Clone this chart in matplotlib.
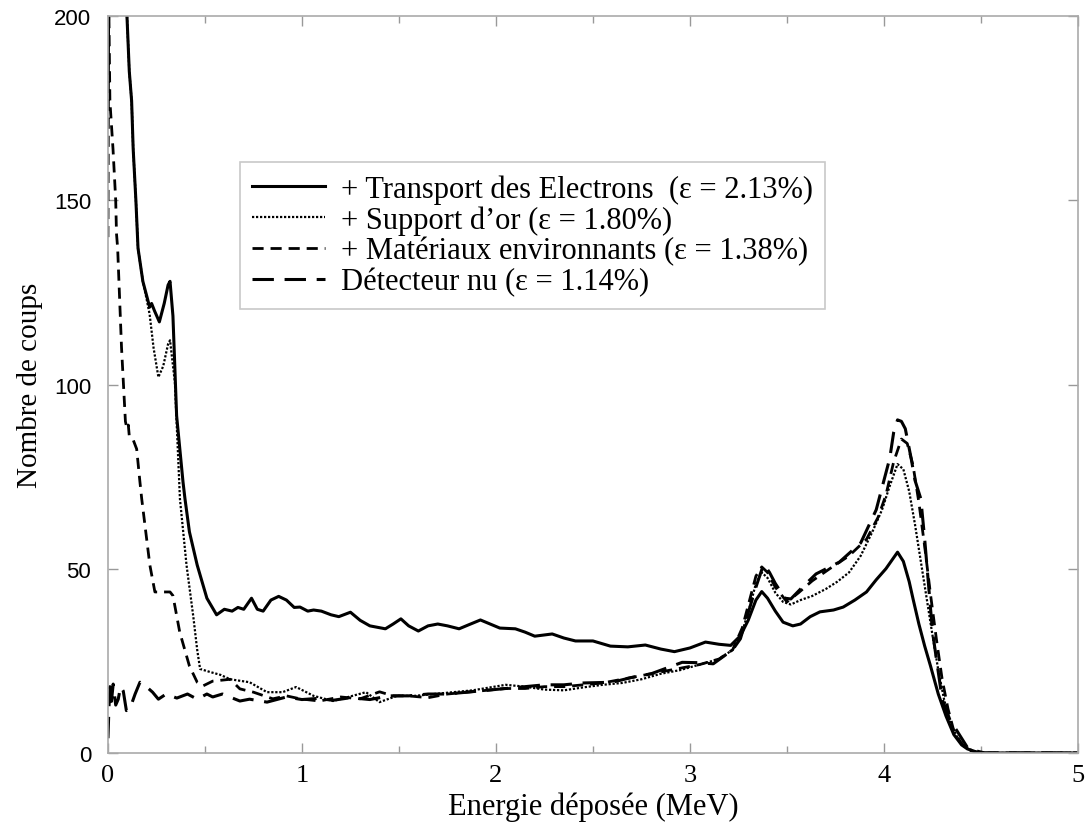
"""
Spectre simule : contributions successives (energie deposee)
"""
import numpy as np
import matplotlib.pyplot as plt

# Transport des electrons (trait plein)
x_elec = [0.098, 0.11, 0.122, 0.13, 0.144, 0.155, 0.18, 0.20, 0.215, 0.225, 0.24, 0.265, 0.29,
          0.31, 0.32, 0.335, 0.354, 0.387, 0.397, 0.42, 0.46, 0.51, 0.56, 0.60, 0.64, 0.67, 0.70,
          0.74, 0.77, 0.80, 0.84, 0.88, 0.92, 0.96, 0.99, 1.03, 1.06, 1.10, 1.15, 1.19, 1.25,
          1.30, 1.35, 1.43, 1.47, 1.51, 1.55, 1.60, 1.65, 1.70, 1.75, 1.81, 1.86, 1.92, 1.97,
          2.02, 2.10, 2.15, 2.20, 2.29, 2.35, 2.41, 2.50, 2.59, 2.68, 2.77, 2.85, 2.92, 3.00,
          3.08, 3.15, 3.21, 3.26, 3.30, 3.34, 3.37, 3.40, 3.44, 3.48, 3.53, 3.57, 3.62, 3.67,
          3.74, 3.79, 3.85, 3.91, 3.96, 4.01, 4.07, 4.10, 4.13, 4.15, 4.18, 4.21, 4.24, 4.28,
          4.32, 4.36, 4.40, 4.43, 4.48, 4.52, 5.0]
y_elec = [200, 185, 177, 164, 150, 137, 128, 124, 121, 122, 120, 117, 122,
          127, 128, 118.6, 91.5, 73.5, 69, 60, 51, 42, 37.5, 39, 38.5, 39.5, 39,
          42, 39, 38.5, 41.5, 42.5, 41.5, 39.5, 39.6, 38.5, 38.8, 38.5, 37.5, 37, 38.2,
          36, 34.5, 33.7, 35, 36.4, 34.5, 33.1, 34.5, 35, 34.5, 33.7, 34.8, 36.1, 35,
          33.9, 33.7, 32.8, 31.7, 32.3, 31.2, 30.4, 30.4, 29.0, 28.8, 29.3, 28.2, 27.5, 28.5,
          30.1, 29.5, 29.2, 31.8, 36, 41.5, 43.8, 42, 38.5, 35.5, 34.5, 35, 37, 38.3,
          38.8, 39.6, 41.5, 43.7, 47, 50, 54.5, 52, 46.5, 41.8, 35, 29, 23.6, 16,
          10, 5, 2.2, 1.1, 0.2, 0, 0]

# Support d'or (pointilles)
x_or = [0.098, 0.11, 0.122, 0.13, 0.144, 0.155, 0.18, 0.20, 0.215, 0.235, 0.26, 0.285, 0.31,
        0.32, 0.345, 0.36, 0.371, 0.405, 0.44, 0.46, 0.475, 0.525, 0.58, 0.63, 0.73, 0.82,
        0.90, 0.97, 1.06, 1.16, 1.26, 1.33, 1.40, 1.49, 1.58, 1.68, 1.78, 1.88, 1.97, 2.05,
        2.15, 2.25, 2.35, 2.45, 2.55, 2.65, 2.75, 2.85, 2.95, 3.05, 3.15, 3.22, 3.27, 3.31,
        3.34, 3.37, 3.40, 3.44, 3.48, 3.52, 3.57, 3.63, 3.70, 3.76, 3.82, 3.88, 3.94, 3.99,
        4.03, 4.07, 4.10, 4.13, 4.16, 4.19, 4.22, 4.25, 4.28, 4.31, 4.34, 4.38, 4.42, 4.47,
        4.52, 5.0]
y_or = [200, 185, 177, 164, 150, 137, 128, 123, 119, 110, 102, 105, 111,
        112, 100.6, 82.5, 69, 51, 37, 28, 22.8, 22, 21.2, 20, 19.2, 16.5,
        16.5, 17.9, 15.5, 14.1, 15.5, 16.5, 13.8, 15.5, 15.5, 16, 16.5, 17, 17.8, 18.5,
        18, 17.2, 17, 17.8, 18.5, 19, 20, 21.5, 22.5, 24, 25.5, 28, 33, 40,
        46, 49, 47.5, 43.5, 41, 40.3, 41.5, 42.6, 44.5, 46.5, 49, 53.5, 60, 66,
        72.5, 78.4, 77, 71, 62, 52, 42, 32, 22.5, 14.5, 8.5, 4, 1.5, 0.4,
        0, 0]

# Materiaux environnants (tirets courts)
x_mat = [0.0, 0.004, 0.01, 0.026, 0.04, 0.044, 0.05, 0.07, 0.09, 0.098, 0.105, 0.11, 0.13,
         0.148, 0.165, 0.174, 0.216, 0.242, 0.32, 0.335, 0.37, 0.42, 0.46, 0.49, 0.54, 0.63,
         0.68, 0.75, 0.85, 0.92, 0.99, 1.09, 1.20, 1.30, 1.40, 1.47, 1.55, 1.65, 1.75, 1.85,
         1.95, 2.05, 2.15, 2.25, 2.35, 2.45, 2.55, 2.65, 2.75, 2.85, 2.95, 3.05, 3.15, 3.22,
         3.27, 3.31, 3.34, 3.37, 3.40, 3.44, 3.50, 3.56, 3.63, 3.72, 3.82, 3.91, 3.97, 4.01,
         4.05, 4.09, 4.12, 4.15, 4.18, 4.21, 4.24, 4.27, 4.30, 4.33, 4.36, 4.40, 4.44, 4.50, 5.0]
y_mat = [140, 205, 177, 164, 150, 141, 137, 110, 90, 88, 89, 86, 85,
         82.5, 73.5, 69, 51, 43.7, 43.7, 42.7, 32.8, 23.6, 19.2, 18.2, 19.5, 20,
         17.4, 16.5, 14.7, 15.5, 14.7, 14.1, 15.2, 14.7, 16.6, 15.5, 15.5, 15, 16, 16.5,
         17, 17.5, 17.5, 18, 18, 18.5, 19, 20, 21, 22, 23, 24, 25.5, 28,
         34, 42, 48, 50.5, 49, 45, 41, 43.5, 46.7, 50, 53.5, 58, 64, 70,
         79, 85.2, 84, 78, 68, 56, 43, 31, 20, 12, 6, 2.5, 0.7, 0, 0]

# Detecteur nu (tirets longs)
x_nu = [0.0, 0.005, 0.01, 0.018, 0.027, 0.04, 0.053, 0.065, 0.079, 0.095, 0.113, 0.14, 0.165,
        0.2, 0.23, 0.26, 0.30, 0.355, 0.41, 0.46, 0.51, 0.54, 0.59, 0.68, 0.73, 0.82, 0.92,
        1.0, 1.08, 1.16, 1.25, 1.35, 1.45, 1.55, 1.65, 1.75, 1.85, 1.95, 2.05, 2.15, 2.25,
        2.35, 2.45, 2.6, 2.7, 2.8, 2.96, 3.05, 3.12, 3.22, 3.26, 3.30, 3.34, 3.38, 3.41,
        3.44, 3.49, 3.52, 3.57, 3.65, 3.77, 3.88, 3.96, 4.03, 4.05, 4.07, 4.09, 4.11, 4.14,
        4.16, 4.19, 4.21, 4.25, 4.30, 4.34, 4.38, 4.43, 4.48, 4.52, 5.0]
y_nu = [4, 12, 18, 14, 18.7, 13, 14.6, 18, 16.8, 11.5, 12, 16, 19.2,
        17.9, 16.5, 14.6, 16, 14.9, 16, 14.6, 16, 15.2, 16, 14.1, 14.6, 13.8, 15.2,
        14.5, 14.8, 14.3, 15, 14.5, 15.5, 15.5, 16, 16, 16.5, 17, 17.5, 18, 18.5,
        18.5, 19, 19.2, 20.5, 21.5, 24.6, 24.5, 24.2, 28, 31, 38, 45, 51.3, 49,
        46, 42, 41.8, 44.5, 48.6, 51.8, 57, 66, 80, 87, 90.4, 90, 88, 80,
        74, 69, 58, 33, 14.6, 9, 5.7, 1.5, 0.5, 0, 0]

labels = [u"+ Transport des Electrons  (\u03b5 = 2.13%)",
          u"+ Support d\u2019or (\u03b5 = 1.80%)",
          u"+ Mat\u00e9riaux environnants (\u03b5 = 1.38%)",
          u"D\u00e9tecteur nu (\u03b5 = 1.14%)"]

plt.rcParams['font.family'] = ['Liberation Serif', 'DejaVu Serif']

fig = plt.figure(figsize=(10.86, 8.28), dpi=100)
ax = fig.add_axes([0.0994, 0.0894, 0.8932, 0.890])

ax.plot(x_elec, y_elec, color='k', lw=2.2, linestyle='-', label=labels[0])
ax.plot(x_or, y_or, color='k', lw=1.6, linestyle=(0, (1, 0.8)), label=labels[1])
ax.plot(x_mat, y_mat, color='k', lw=2.0, linestyle=(0, (4, 2.5)), label=labels[2])
ax.plot(x_nu, y_nu, color='k', lw=2.2, linestyle=(0, (7, 3.5)), label=labels[3])

ax.set_xlim(0, 5)
ax.set_ylim(0, 200)
ax.set_xticks([0, 1, 2, 3, 4, 5])
ax.set_xticks(np.arange(0.5, 5, 1.0), minor=True)
ax.set_yticks([0, 50, 100, 150, 200])
ax.tick_params(which='both', direction='in', top=True, right=True, color='#999999')
ax.tick_params(which='major', length=7, width=1)
ax.tick_params(which='minor', length=5, width=1)
ax.tick_params(axis='x', labelsize=19, pad=8)
ax.tick_params(axis='y', labelsize=16, pad=12)
for lab in ax.get_yticklabels():
    lab.set_family('Liberation Sans')
for sp in ax.spines.values():
    sp.set_color('#aaaaaa')
    sp.set_linewidth(1.2)

ax.set_xlabel(u"Energie d\u00e9pos\u00e9e (MeV)", fontsize=22, labelpad=4)
ax.set_ylabel("Nombre de coups", fontsize=21, labelpad=8)

leg = ax.legend(loc='upper left', bbox_to_anchor=(0.136, 0.802), borderaxespad=0,
                fontsize=22, frameon=True, fancybox=False, handlelength=2.4,
                handletextpad=0.5, labelspacing=0.05, borderpad=0.4)
leg.get_frame().set_edgecolor('#bbbbbb')
leg.get_frame().set_linewidth(1.2)

plt.savefig('out.png', dpi=100)
